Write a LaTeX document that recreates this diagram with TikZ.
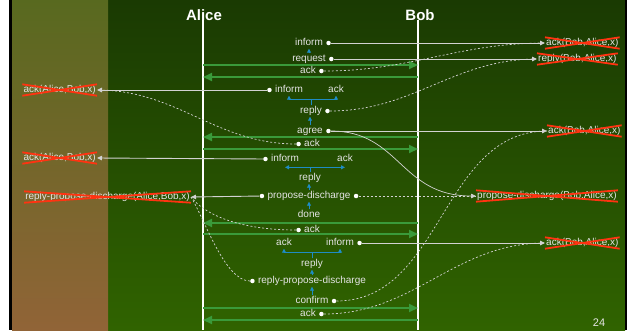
\documentclass[tikz,border=0pt]{standalone}
\usepackage{fontspec}
\setmainfont{Liberation Sans}
\usepackage{tikz}
\usetikzlibrary{arrows.meta, positioning, calc}
\definecolor{mbgtop}{HTML}{1A3A02}
\definecolor{mbgbot}{HTML}{306300}
\definecolor{mstriptop}{HTML}{58691F}
\definecolor{mstripbot}{HTML}{916437}
\definecolor{mtext}{HTML}{E4E4E4}
\definecolor{mline}{HTML}{D2D2D2}
\definecolor{mgreen}{HTML}{3A9A3A}
\definecolor{mblue}{HTML}{1E8CC4}
\definecolor{mcross}{HTML}{FF3311}
\tikzset{
  msg/.style={text=mtext, font=\fontsize{10}{12}\selectfont, inner sep=1pt,
              text height=7pt, text depth=2pt},
  cmt/.style={msg},
  role/.style={text=white, font=\fontsize{15}{18}\selectfont\bfseries},
  mdot/.style={circle, fill=white, inner sep=0pt, minimum size=4.5pt},
  life/.style={white, line width=1.5pt},
  garr/.style={-{Triangle[length=9pt,width=8pt]}, line width=2pt, mgreen},
  barr/.style={-{Triangle[length=4pt,width=4pt]}, line width=0.9pt, mblue},
  carr/.style={-{Triangle[length=5pt,width=4.5pt]}, line width=0.9pt, mline},
  darr/.style={dash pattern=on 2pt off 2pt, line width=0.7pt, mline},
  xout/.style={mcross, line width=1.8pt},
}

\begin{document}
\begin{tikzpicture}[x=1pt, y=-1pt]
  \useasboundingbox (0,0) rectangle (631,330);
  % slide background
  \fill[white] (0,0) rectangle (631,330);
  \shade[top color=mbgtop, bottom color=mbgbot] (12,0) rectangle (625,330);
  \shade[top color=mstriptop, bottom color=mstripbot] (12,0) rectangle (108,330);
  \fill[black] (9,0) rectangle (12,330);
  \fill[black] (625,0) rectangle (627,330);

  % roles and lifelines
  \node[role] (alice) at (204,15) {Alice};
  \node[role] (bob) at (420,15) {Bob};
  \coordinate (la) at (203,20);
  \coordinate (lb) at (418,20);
  \draw[life] (la) -- (la |- 0,330);
  \draw[life] (lb) -- (lb |- 0,330);

  % transport level messages
  \foreach \y in {65,149,234,308}
    \draw[garr] (la |- 0,\y) -- (lb |- 0,\y);
  \foreach \y in {77,137,223,320}
    \draw[garr] (lb |- 0,\y) -- (la |- 0,\y);

  % protocol messages
  \node[msg] (inf1) at (309,43) {inform};
  \node[msg] (req)  at (309,59) {request};
  \node[msg] (ack1) at (308,71) {ack};
  \node[msg] (inf2) at (289,90) {inform};
  \node[msg] (ack2) at (336,90) {ack};
  \node[msg] (rep1) at (311,111) {reply};
  \node[msg] (agr)  at (310,131) {agree};
  \node[msg] (ack3) at (312,144) {ack};
  \node[msg] (inf3) at (285,159) {inform};
  \node[msg] (ack4) at (345,159) {ack};
  \node[msg] (rep2) at (310,178) {reply};
  \node[msg] (pd)   at (309,196) {propose-discharge};
  \node[msg] (done) at (309,215) {done};
  \node[msg] (ack5) at (312,230) {ack};
  \node[msg] (ack6) at (284,243) {ack};
  \node[msg] (inf4) at (340,243) {inform};
  \node[msg] (rep3) at (312,264) {reply};
  \node[msg] (rpd)  at (312,281) {reply-propose-discharge};
  \node[msg] (conf) at (312,301) {confirm};
  \node[msg] (ack7) at (308,314) {ack};

  \node[mdot, right=2pt of inf1] (inf1d) {};
  \node[mdot, right=2pt of req]  (reqd)  {};
  \node[mdot, right=2pt of ack1] (ack1d) {};
  \node[mdot, left=2pt of inf2]  (inf2d) {};
  \node[mdot, right=2pt of rep1] (rep1d) {};
  \node[mdot, right=2pt of agr]  (agrd)  {};
  \node[mdot, left=2pt of ack3]  (ack3d) {};
  \node[mdot, left=2pt of inf3]  (inf3d) {};
  \node[mdot, left=2pt of pd]    (pdl)   {};
  \node[mdot, right=2pt of pd]   (pdr)   {};
  \node[mdot, left=2pt of ack5]  (ack5d) {};
  \node[mdot, right=2pt of inf4] (inf4d) {};
  \node[mdot, left=2pt of rpd]   (rpdd)  {};
  \node[mdot, right=2pt of conf] (confd) {};
  \node[mdot, right=2pt of ack7] (ack7d) {};

  % message dependencies
  \draw[barr] (req.north) -- (req.north |- inf1.south);
  \draw[barr] (rep1.north) -- ++(0,-6) -| (inf2.south);
  \draw[barr] (rep1.north) -- ++(0,-6) -| (ack2.south);
  \draw[barr] (agr.north) -- (agr.north |- rep1.south);
  \draw[mblue, line width=0.9pt] (rep2.north) -- ++(0,-5) coordinate (b2);
  \draw[barr] (b2) -- (b2 -| inf3);
  \draw[barr] (b2) -- (b2 -| ack4);
  \draw[barr] (pd.north) -- (pd.north |- rep2.south);
  \draw[barr] (done.north) -- (done.north |- pd.south);
  \draw[barr] (rep3.north) -- ++(0,-6) -| (ack6.south);
  \draw[barr] (rep3.north) -- ++(0,-6) -| (inf4.south);
  \draw[barr] (rpd.north) -- (rpd.north |- rep3.south);
  \draw[barr] (conf.north) -- (conf.north |- rpd.south);

  % commitments of Bob
  \node[cmt, anchor=west] (cb1) at (545,43) {ack(Bob,Alice,x)};
  \node[cmt, anchor=west] (cb2) at (537,59) {reply(Bob,Alice,x)};
  \node[cmt, anchor=west] (cb3) at (547,131) {ack(Bob,Alice,x)};
  \node[cmt, anchor=west] (cb4) at (476,196) {propose-discharge(Bob,Alice,x)};
  \node[cmt, anchor=west] (cb5) at (545,243) {ack(Bob,Alice,x)};
  % commitments of Alice
  \node[cmt, anchor=east] (ca1) at (97,90) {ack(Alice,Bob,x)};
  \node[cmt, anchor=east] (ca2) at (97,158) {ack(Alice,Bob,x)};
  \node[cmt, anchor=east] (ca3) at (191,197) {reply-propose-discharge(Alice,Bob,x)};

  % creation
  \draw[carr] (inf1d) -- (cb1.west);
  \draw[carr] (reqd) -- (cb2.west);
  \draw[carr] (agrd) -- (cb3.west);
  \draw[carr, line width=0.7pt] (agrd) .. controls (400,131) and (400,196) .. (cb4.west);
  \draw[carr] (inf4d) -- (cb5.west);
  \draw[carr] (inf2d) -- (ca1.east);
  \draw[carr] (inf3d) -- (ca2.east);
  \draw[carr] (pdl) -- (ca3.east);
  % discharge
  \draw[darr] (ack1d) to[out=0,in=180] (cb1.west);
  \draw[darr] (rep1d) to[out=0,in=180] (cb2.west);
  \draw[darr] (pdr) -- (cb4.west);
  \draw[darr] (confd) to[out=0,in=180] (cb3.west);
  \draw[darr] (ack7d) to[out=0,in=180] (cb5.west);
  \draw[darr] (ack3d) to[out=180,in=0] (ca1.east);
  \draw[darr] (ack5d) .. controls (240,230) and (205,215) .. (ca3.east);
  \draw[darr] (rpdd) .. controls (225,281) and (205,220) .. (ca3.east);

  % cancelled commitments
  \foreach \n in {cb1,cb2,cb3,cb4,cb5,ca1,ca2,ca3}
    \draw[xout] (\n.north west) -- (\n.south east) (\n.south west) -- (\n.north east);

  \node[text=mtext, font=\fontsize{11}{13}\selectfont, inner sep=0pt, anchor=south]
    (page) at (599,327) {24};
\end{tikzpicture}
\end{document}
